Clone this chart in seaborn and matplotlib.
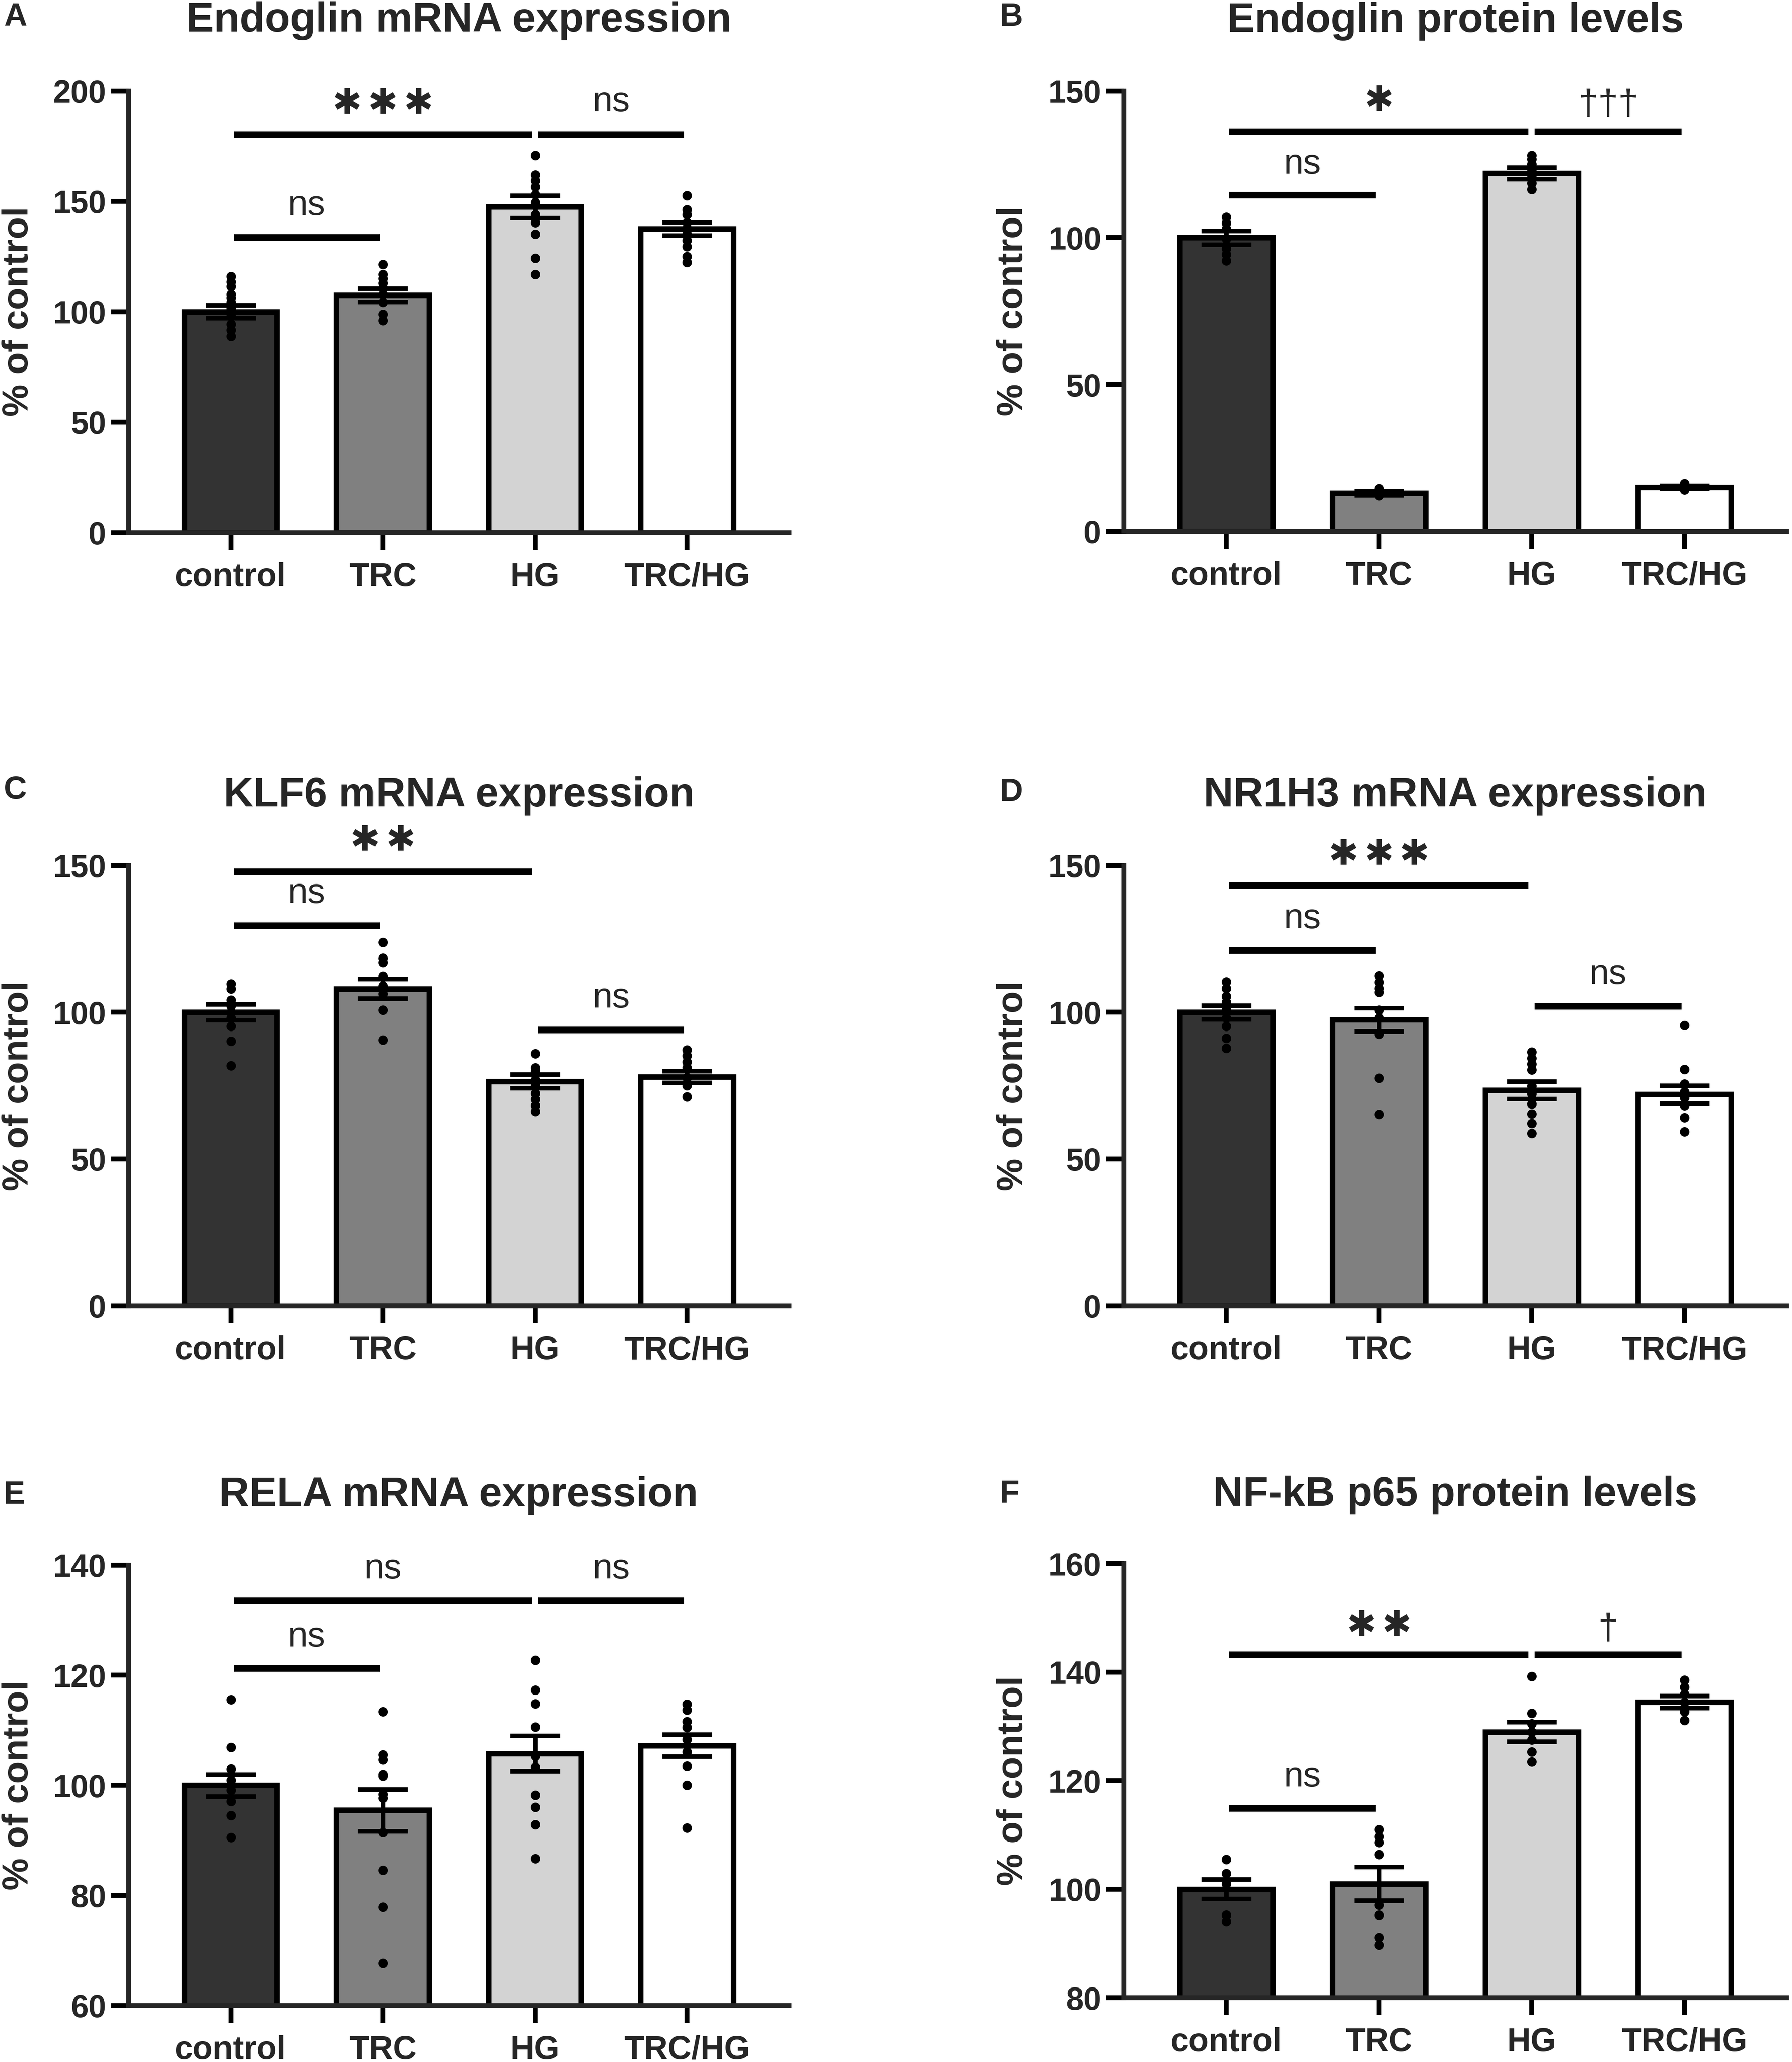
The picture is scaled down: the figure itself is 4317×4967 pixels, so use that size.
import matplotlib
matplotlib.use('Agg')
import matplotlib.pyplot as plt
from matplotlib.font_manager import FontProperties
from matplotlib.textpath import TextPath
import pandas as pd
import seaborn as sns

groups = ['control', 'TRC', 'HG', 'TRC/HG']
bar_colors = ['#333333', '#808080', '#d3d3d3', '#ffffff']

# A - Endoglin mRNA expression
endoglin_mrna_mean = [100, 107.5, 147.5, 137.5]
endoglin_mrna_sem = [2.9, 3.0, 5.0, 3.0]
endoglin_mrna_dots = [
    [116, 113.4, 111.5, 107.8, 106.4, 104.2, 101.5, 98.8, 94.3, 91.6, 88.9],
    [121.4, 116.9, 115, 112.9, 110.6, 107.9, 104.2, 98.8, 96.1],
    [170.7, 162, 159.3, 156.6, 153, 149.4, 144, 140.4, 135, 124.1, 116.9],
    [152.5, 146.2, 144, 140.4, 137.7, 135, 132.3, 129.5, 125, 122.3],
]
endoglin_mrna_sig = [(0, 2, 180, '***', 195.5), (2, 3, 180, 'ns', 195), (0, 1, 133.5, 'ns', 148)]

# B - Endoglin protein levels
endoglin_prot_mean = [100, 13, 122, 15]
endoglin_prot_sem = [2.3, 0.7, 2.0, 0.5]
endoglin_prot_dots = [
    [107, 105, 103, 99.6, 96.2, 94.2, 92.1],
    [14.5, 13.6, 13.0, 12.5, 12.2],
    [128, 126.7, 125, 122.6, 120.6, 118.6, 116.5],
    [16.3, 15.5, 15.0, 14.6, 14.2],
]
endoglin_prot_sig = [(0, 2, 136, '*', 147.5), (2, 3, 136, '†††', 146), (0, 1, 114.5, 'ns', 125)]

# C - KLF6 mRNA expression
klf6_mean = [100, 108, 76.5, 78]
klf6_sem = [2.7, 3.3, 2.3, 2.0]
klf6_dots = [
    [109.6, 108, 104.2, 102.1, 100.1, 98.1, 95.3, 90.2, 81.8],
    [123.8, 118.4, 117, 112.3, 108.9, 106.2, 100.8, 90.6],
    [85.9, 81.1, 79.8, 77, 75, 72.3, 70.3, 68.2, 66.2],
    [87.2, 85.2, 83.1, 81.1, 77.7, 75, 71.2],
]
klf6_sig = [(0, 2, 147.8, '**', 159.4), (0, 1, 129.5, 'ns', 140.4), (2, 3, 94, 'ns', 104.8)]

# D - NR1H3 mRNA expression
nr1h3_mean = [100, 97.5, 73.5, 72]
nr1h3_sem = [2.3, 4.0, 3.0, 3.0]
nr1h3_dots = [
    [110.4, 108.1, 105.4, 103.4, 100.7, 98, 95.3, 91.2, 87.8],
    [112.5, 110.2, 108.1, 106.8, 100.7, 98, 92.5, 77.6, 65.2],
    [86.4, 84.4, 82.4, 80.4, 74.9, 72.2, 68.8, 65.4, 62.1, 58.7],
    [95.5, 80.6, 75.6, 72.9, 70.9, 68.2, 64.1, 59.3],
]
nr1h3_sig = [(0, 2, 143.2, '***', 154.6), (0, 1, 121, 'ns', 131.8), (2, 3, 102, 'ns', 112.9)]

# E - RELA mRNA expression
rela_mean = [100, 95.5, 105.8, 107.2]
rela_sem = [2.0, 3.8, 3.2, 2.0]
rela_dots = [
    [115.6, 106.9, 103, 100.9, 99.1, 97.1, 94.5, 90.5],
    [113.4, 105.5, 104.6, 102, 101.7, 98.4, 97.7, 91.4, 84.6, 77.9, 67.7],
    [122.7, 117.3, 114.8, 110.6, 105.3, 103.3, 98.2, 96, 92.9, 86.7],
    [114.7, 113.7, 111.6, 110.5, 108.3, 106.1, 103.5, 100, 92.3],
]
rela_sig = [(0, 2, 133.5, 'ns', 139.3), (2, 3, 133.5, 'ns', 139.3), (0, 1, 121.2, 'ns', 126.9)]

# F - NF-kB p65 protein levels
p65_mean = [100, 101, 129, 134.5]
p65_sem = [1.8, 3.1, 1.8, 1.1]
p65_dots = [
    [105.5, 102.9, 101, 95.2, 94.1],
    [111, 109.7, 108.6, 106.4, 97.1, 95.2, 91.1, 89.7],
    [139.2, 132.4, 130.5, 129, 127.5, 125.3, 123.5],
    [138.5, 137.2, 135.9, 134.4, 132.7, 131.1],
]
p65_sig = [(0, 2, 143.2, '**', 149), (2, 3, 143.2, '†', 148.3), (0, 1, 114.9, 'ns', 120.7)]

sns.set_style('ticks')
plt.rcParams['font.family'] = ['Liberation Sans', 'DejaVu Sans']

fig = plt.figure(figsize=(4317 / 300, 4967 / 300), dpi=300)

star_prop = FontProperties(family='DejaVu Sans')
text_prop = FontProperties(family='Liberation Sans')


def ink_center(s, prop):
    # vertical centre and height of the glyph ink, in em units
    ext = TextPath((0, 0), s, size=1, prop=prop).get_extents()
    return (ext.y0 + ext.y1) / 2, ext.y1 - ext.y0


star_c, star_h = ink_center('\u2731', star_prop)
star_fs = 14.9 / star_h      # star ink ~62 px tall at 300 dpi
star_pitch = 20.6            # points between star centres


def put_label(ax, x, y, label):
    if '*' in label:
        n = len(label)
        for k in range(n):
            dx = (k - (n - 1) / 2) * star_pitch
            ax.annotate('\u2731', (x, y), xytext=(dx, -star_c * star_fs),
                        textcoords='offset points', ha='center', va='baseline',
                        fontsize=star_fs, family='DejaVu Sans', annotation_clip=False)
    else:
        fs = 21 if '†' in label else 20.5
        c, _ = ink_center(label, text_prop)
        ax.annotate(label, (x, y), xytext=(0, -c * fs), textcoords='offset points',
                    ha='center', va='baseline', fontsize=fs, annotation_clip=False)


def draw_panel(rect, letter, letter_xy, title, means, sems, dots, yticks, sig):
    ax = fig.add_axes(rect)
    sns.barplot(x=groups, y=means, order=groups, hue=groups, hue_order=groups,
                palette=bar_colors, legend=False, saturation=1, width=0.61,
                edgecolor='black', linewidth=3.2, ax=ax, zorder=2)
    df = pd.DataFrame([(g, v) for g, vals in zip(groups, dots) for v in vals],
                      columns=['group', 'value'])
    sns.stripplot(data=df, x='group', y='value', order=groups, color='black',
                  size=5.5, jitter=False, ax=ax, zorder=4)
    ax.errorbar(range(len(groups)), means, yerr=sems, fmt='none', ecolor='black',
                elinewidth=2.6, capsize=14.5, capthick=2.6, zorder=5)

    ax.set_xlim(-0.67, 3.67)
    ax.set_ylim(yticks[0], yticks[-1])
    ax.set_yticks(yticks)
    ax.set_xlabel('')
    ax.set_ylabel('% of control', fontsize=21, fontweight='bold', va='center')
    ax.yaxis.set_label_coords(-0.167, 0.5)
    sns.despine(ax=ax)
    for side in ['left', 'bottom']:
        ax.spines[side].set_linewidth(2.8)
    ax.tick_params(axis='both', direction='out', length=10, width=2.8, color='black')
    ax.tick_params(axis='x', pad=7, labelsize=19)
    ax.tick_params(axis='y', pad=3, labelsize=18.5)
    for lab in ax.get_xticklabels() + ax.get_yticklabels():
        lab.set_fontweight('bold')

    # significance brackets
    for i, j, y_line, label, y_text in sig:
        ax.plot([i + 0.02, j - 0.02], [y_line, y_line], color='black', lw=3.8,
                solid_capstyle='butt', clip_on=False, zorder=6)
        put_label(ax, (i + j) / 2, y_text, label)

    ax.text(0.5, 1.158, title, transform=ax.transAxes, ha='center', va='center',
            fontsize=24, fontweight='bold')
    fig.text(letter_xy[0], letter_xy[1], letter, ha='left', va='center',
             fontsize=18.5, fontweight='bold')
    return ax


left_x, right_x = 0.0718, 0.6271
w_left, w_right = 0.3685, 0.370

draw_panel([left_x, 0.7417, w_left, 0.2143], 'A', (0.002, 0.9917),
           'Endoglin mRNA expression', endoglin_mrna_mean, endoglin_mrna_sem,
           endoglin_mrna_dots, [0, 50, 100, 150, 200], endoglin_mrna_sig)
draw_panel([right_x, 0.7423, w_right, 0.2137], 'B', (0.558, 0.9917),
           'Endoglin protein levels', endoglin_prot_mean, endoglin_prot_sem,
           endoglin_prot_dots, [0, 50, 100, 150], endoglin_prot_sig)
draw_panel([left_x, 0.3667, w_left, 0.2136], 'C', (0.002, 0.6167),
           'KLF6 mRNA expression', klf6_mean, klf6_sem,
           klf6_dots, [0, 50, 100, 150], klf6_sig)
draw_panel([right_x, 0.3667, w_right, 0.2136], 'D', (0.558, 0.6155),
           'NR1H3 mRNA expression', nr1h3_mean, nr1h3_sem,
           nr1h3_dots, [0, 50, 100, 150], nr1h3_sig)
draw_panel([left_x, 0.0274, w_left, 0.2136], 'E', (0.002, 0.2749),
           'RELA mRNA expression', rela_mean, rela_sem,
           rela_dots, [60, 80, 100, 120, 140], rela_sig)
draw_panel([right_x, 0.0312, w_right, 0.2105], 'F', (0.558, 0.2755),
           'NF-kB p65 protein levels', p65_mean, p65_sem,
           p65_dots, [80, 100, 120, 140, 160], p65_sig)

fig.savefig('out.png', dpi=300)
